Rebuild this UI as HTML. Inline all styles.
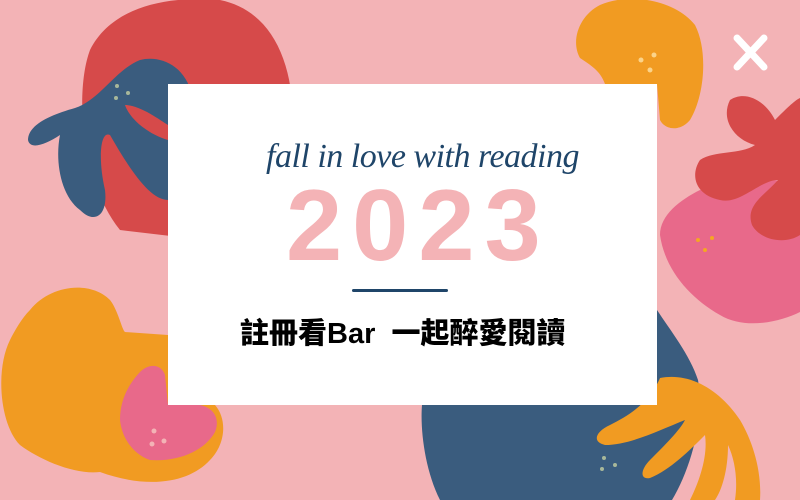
<!DOCTYPE html>
<html><head><meta charset="utf-8">
<style>
html,body{margin:0;padding:0;width:800px;height:500px;overflow:hidden;background:#f3b3b6;}
#wrap{position:relative;width:800px;height:500px;}
svg{position:absolute;left:0;top:0;}
#card{position:absolute;left:168px;top:84px;width:489px;height:321px;background:#fff;}
.script{position:absolute;left:92px;width:325px;top:54px;text-align:center;font-family:"Liberation Serif",serif;font-style:italic;font-size:34px;color:#1f4569;letter-spacing:-0.5px;white-space:nowrap;}
.year{position:absolute;left:118px;top:92px;font-family:"Liberation Sans",sans-serif;font-weight:bold;font-size:101px;color:#f4b3b6;letter-spacing:10px;line-height:100px;}
.rule{position:absolute;left:184px;top:205px;width:96px;height:3px;background:#1f4569;border-radius:2px;}
.zh{position:absolute;left:72px;top:226px;font-family:"Liberation Sans","Noto Sans CJK TC",sans-serif;font-weight:900;font-size:29px;color:#000;white-space:nowrap;}
</style></head>
<body>
<div id="wrap">
<svg width="800" height="500" viewBox="0 0 800 500">
  <path fill="#d64a4a" d="M90,50 C110,10 160,-5 220,0 C270,10 295,60 293,130 L290,250 L120,230 C80,180 75,90 90,50Z"/>
  <path fill="#3a5c7e" d="M140,60 C160,55 185,65 192,95 L168,115 L168,200 C150,200 130,170 110,135 C100,130 98,160 105,190 C108,215 95,225 80,210 C60,195 55,160 60,135 C45,145 30,150 28,140 C28,125 50,115 75,108 C100,100 115,70 140,60Z"/>
  <path fill="#d64a4a" d="M125,105 C140,105 160,120 168,125 L168,140 C150,135 130,120 125,105Z"/>
  <circle cx="117" cy="86" r="2" fill="#a8b89a"/><circle cx="128" cy="93" r="2" fill="#a8b89a"/><circle cx="116" cy="98" r="2" fill="#a8b89a"/>
  <path fill="#f19b22" d="M600,5 C630,-8 675,0 695,25 C708,50 705,95 690,120 C680,132 665,130 660,120 L657,84 L605,84 C600,70 590,65 580,58 C570,40 580,15 600,5Z"/>
  <circle cx="641" cy="60" r="2.5" fill="#fbd38a"/><circle cx="654" cy="55" r="2.5" fill="#fbd38a"/><circle cx="650" cy="70" r="2.5" fill="#fbd38a"/>
  <path fill="#e8698a" d="M700,190 C730,175 780,178 800,185 L800,312 C780,322 745,330 720,315 C690,298 665,270 660,235 C660,215 680,200 700,190Z"/>
  <path fill="#d64a4a" d="M730,100 C745,90 765,100 775,120 C785,110 795,100 800,98 L800,235 C785,245 760,240 752,225 C745,205 765,195 778,180 C760,180 740,205 720,200 C695,195 690,175 700,160 C715,150 740,155 755,145 C735,140 720,120 730,100Z"/>
  <circle cx="698" cy="240" r="2" fill="#f5a623"/><circle cx="712" cy="238" r="2" fill="#f5a623"/><circle cx="705" cy="250" r="2" fill="#f5a623"/>
  <path fill="#3a5c7e" d="M440,500 C425,470 420,430 422,405 L657,405 L657,310 C670,330 690,355 698,380 C705,420 690,470 672,500Z"/>
  <path fill="#f19b22" d="M660,378 C690,372 720,390 740,420 C752,440 762,470 760,500 L735,500 C738,480 735,460 728,445 C728,470 722,490 715,500 L690,500 C700,480 708,455 705,435 C690,450 670,470 650,478 C640,480 640,470 650,460 C665,445 680,430 685,420 C660,430 630,445 605,445 C592,442 595,432 610,425 C630,415 650,402 660,378Z"/>
  <circle cx="604" cy="458" r="2" fill="#a8b89a"/><circle cx="615" cy="465" r="2" fill="#a8b89a"/><circle cx="602" cy="469" r="2" fill="#a8b89a"/>
  <path fill="#f19b22" d="M30,310 C50,285 90,280 110,300 C118,310 122,330 125,332 L168,335 L168,405 L215,405 C228,420 225,445 210,460 C190,482 150,490 100,472 C75,475 40,460 20,445 C0,425 -5,370 10,340 C15,330 22,318 30,310Z"/>
  <path fill="#e8698a" d="M140,372 C150,362 162,365 165,375 L168,405 L200,405 C215,408 220,420 215,432 C205,450 180,462 150,460 C135,455 122,440 120,420 C120,400 128,385 140,372Z"/>
  <circle cx="154" cy="431" r="2.5" fill="#f3b3b6"/><circle cx="164" cy="441" r="2.5" fill="#f3b3b6"/><circle cx="152" cy="444" r="2.5" fill="#f3b3b6"/>
  <g stroke="#fff" stroke-width="7" stroke-linecap="round">
    <line x1="737" y1="38" x2="764" y2="67"/><line x1="764" y1="38" x2="737" y2="67"/>
  </g>
</svg>
<div id="card">
  <div class="script">fall in love with reading</div>
  <div class="year">2023</div>
  <div class="rule"></div>
  <div class="zh">註冊看Bar&nbsp;&nbsp;一起醉愛閱讀</div>
</div>
</div>
</body></html>
